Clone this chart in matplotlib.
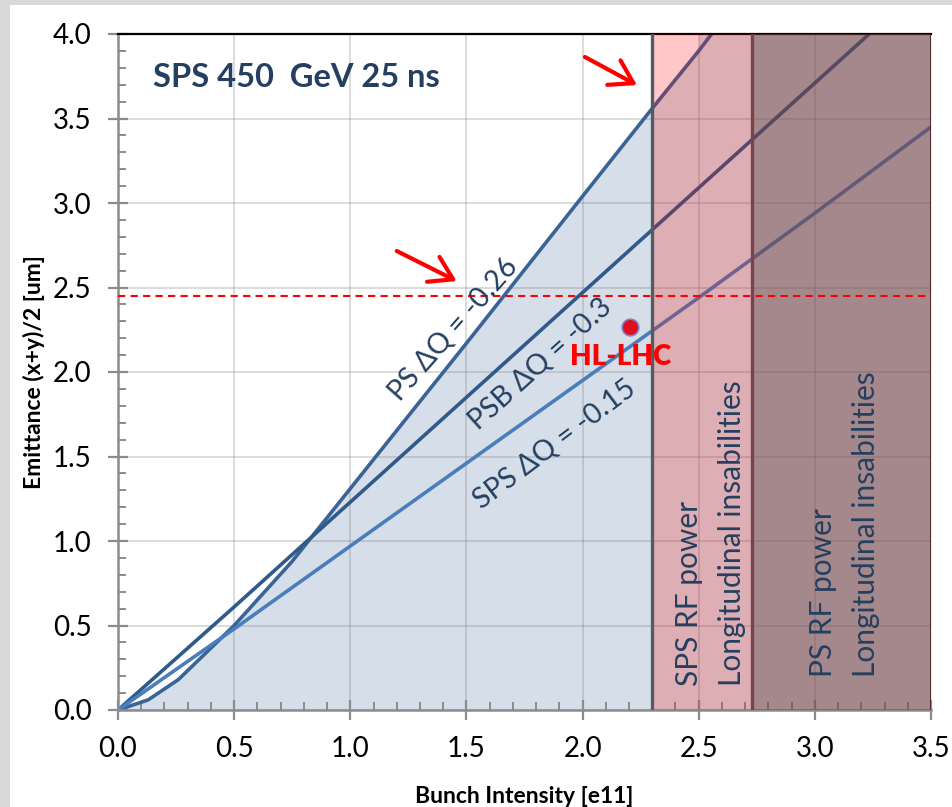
import numpy as np
import matplotlib
matplotlib.use('Agg')
import matplotlib.pyplot as plt
from matplotlib.patches import Rectangle
from matplotlib.ticker import MultipleLocator

plt.rcParams['font.family'] = ['Lato', 'DejaVu Sans']

# limit curves (bunch intensity e11 -> emittance um)
ps_x = [0, 0.13, 0.26, 0.38, 0.5, 0.75, 1.0, 1.5, 2.0, 2.3, 2.5, 2.6]
ps_y = [0, 0.06, 0.18, 0.34, 0.5, 0.88, 1.31, 2.17, 3.04, 3.56, 3.90, 4.08]

psb_x = [0, 0.5, 1.0, 1.5, 2.0, 2.5, 3.0, 3.5]
psb_y = [0, 0.61, 1.23, 1.85, 2.47, 3.09, 3.71, 4.33]

sps_x = [0, 0.5, 1.0, 1.5, 2.0, 2.5, 3.0, 3.5]
sps_y = [0, 0.48, 0.97, 1.46, 1.95, 2.44, 2.94, 3.45]

# limits
sps_rf = 2.3
ps_rf = 2.73
x_end = 3.5
emit_target = 2.45

hl_lhc = (2.204, 2.268)

# red arrows (start, end)
arrows = [((2.01, 3.864), (2.234, 3.698)),
          ((1.20, 2.716), (1.458, 2.538))]

txt_col = '#243f60'

fig = plt.figure(figsize=(9.53, 8.07), dpi=100)
fig.patch.set_facecolor('#d9d9d9')
fig.add_artist(Rectangle((10 / 953, 0), 1, 1 - 5 / 807, transform=fig.transFigure,
                         facecolor='white', edgecolor='none', zorder=-10))
ax = fig.add_axes([118 / 953, 1 - 710 / 807, 813 / 953, 676 / 807])

# blue allowed area below the PS curve (full height after 2.5)
fx = [x for x in ps_x if x <= 2.5] + [2.5, x_end]
fy = [y for x, y in zip(ps_x, ps_y) if x <= 2.5] + [4.0, 4.0]
ax.fill_between(fx, 0, fy, color='#d6dfe9', lw=0, zorder=1)

ax.grid(which='major', color='#808080', alpha=0.3, lw=1.3)

ax.plot(ps_x, ps_y, color='#3a6496', lw=2.6, zorder=2)
ax.plot(psb_x, psb_y, color='#2f5a8a', lw=2.6, zorder=2)
ax.plot(sps_x, sps_y, color='#4a7ebb', lw=2.6, zorder=2)

# shaded bands
ax.axvspan(sps_rf, x_end, color='red', alpha=0.22, lw=0, zorder=3)
ax.axvspan(ps_rf, x_end, color=(80 / 255, 80 / 255, 80 / 255), alpha=0.4, lw=0, zorder=3.1)
ax.axvline(sps_rf, color='#555b63', lw=2.4, zorder=4)
ax.axvline(ps_rf, color='#7a434b', lw=2.4, zorder=4)
ax.axvline(x_end, color='#4a2228', lw=2, zorder=4)

ax.axhline(emit_target, color='red', lw=1.5, ls=(0, (3.5, 2.5)), zorder=5)

ax.plot(*hl_lhc, 'o', ms=12, mfc='#dd1020', mec='#8a80c0', mew=1.2, zorder=6)
ax.text(2.163, 2.041, 'HL-LHC', color='red', fontsize=20, fontweight='heavy',
        ha='center', va='baseline', zorder=6)

for (x0, y0), (x1, y1) in arrows:
    ax.annotate('', xy=(x1, y1), xytext=(x0, y0),
                arrowprops=dict(arrowstyle='->,head_length=0.8,head_width=0.5',
                                color='red', lw=3, mutation_scale=20,
                                shrinkA=0, shrinkB=0), zorder=6)

ax.text(0.151, 3.686, 'SPS 450  GeV 25 ns', fontsize=23.5, fontweight='bold',
        color=txt_col, va='baseline', ha='left', zorder=6)

ax.text(1.446, 2.25, 'PS ΔQ = -0.26', fontsize=20.5, color=txt_col, rotation=48.5,
        rotation_mode='anchor', ha='center', va='center', zorder=6)
ax.text(1.817, 2.047, 'PSB ΔQ = -0.3', fontsize=20.5, color=txt_col, rotation=42,
        rotation_mode='anchor', ha='center', va='center', zorder=6)
ax.text(1.88, 1.57, 'SPS ΔQ = -0.15', fontsize=20.5, color=txt_col, rotation=37,
        rotation_mode='anchor', ha='center', va='center', zorder=6)

ax.text(2.458, 0.142, 'SPS RF power', fontsize=21.5, color=txt_col, rotation=90,
        ha='center', va='bottom', zorder=6)
ax.text(2.642, 0.142, 'Longitudinal insabilities', fontsize=21.5, color=txt_col,
        rotation=90, ha='center', va='bottom', zorder=6)
ax.text(3.035, 0.195, 'PS RF power', fontsize=21.5, color=txt_col, rotation=90,
        ha='center', va='bottom', zorder=6)
ax.text(3.219, 0.195, 'Longitudinal insabilities', fontsize=21.5, color=txt_col,
        rotation=90, ha='center', va='bottom', zorder=6)

ax.set_xlim(0, x_end)
ax.set_ylim(0, 4)
ax.set_xticks(np.arange(0, 3.51, 0.5))
ax.set_yticks(np.arange(0, 4.01, 0.5))
ax.set_xticklabels(['%.1f' % v for v in np.arange(0, 3.51, 0.5)])
ax.set_yticklabels(['%.1f' % v for v in np.arange(0, 4.01, 0.5)])
ax.xaxis.set_minor_locator(MultipleLocator(0.1))
ax.yaxis.set_minor_locator(MultipleLocator(0.1))
ax.tick_params(which='major', direction='inout', length=14, width=1.6,
               color='#8c8c8c', labelsize=20, pad=12)
ax.tick_params(which='minor', direction='in', length=6, width=1.4, color='#8c8c8c')

for s in ['left', 'bottom']:
    ax.spines[s].set_color('#8c8c8c')
    ax.spines[s].set_linewidth(1.8)
ax.spines['top'].set_color('black')
ax.spines['top'].set_linewidth(1.6)
ax.spines['right'].set_visible(False)

ax.set_xlabel('Bunch Intensity [e11]', fontsize=16.5, fontweight='bold', labelpad=17)
ax.set_ylabel('Emittance (x+y)/2 [um]', fontsize=16.5, fontweight='bold', labelpad=6)

fig.savefig('out.png', dpi=100, facecolor=fig.get_facecolor())
